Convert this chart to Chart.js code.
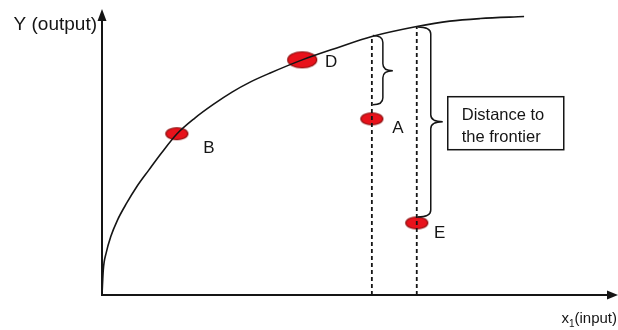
<!DOCTYPE html>
<html lang="en">

<head>
    <meta charset="UTF-8">
    <title>Production frontier</title>
    <script src="https://cdn.jsdelivr.net/npm/chart.js"></script>
    <style>
        body {
            margin: 0;
            padding: 0;
            background: #fff;
        }

        .chart-box {
            width: 618px;
            height: 330px;
        }
    </style>
</head>

<body>
    <div class="chart-box">
        <canvas id="frontierChart"></canvas>
    </div>

    <script>
        // frontier curve: input x1 -> output Y (0..100 units)
        const frontierX = [0, 0.25, 0.8, 1.7, 3, 4.8, 6.7, 9.1, 11.6, 14.5, 18, 21.5, 25.2, 28.7, 32.6, 38.8, 45.5, 52.3, 61, 67.4, 73.3, 81.8];
        const frontierY = [0, 8.8, 14.7, 20.5, 26.3, 32.3, 37.9, 43.9, 50, 56.5, 62.1, 66.8, 71.2, 74.7, 77.9, 82.5, 86.7, 90.7, 94.2, 96.1, 97, 97.7];

        // observed units
        const firmNames = ['B', 'D', 'A', 'E'];
        const firmX = [14.5, 38.8, 52.3, 61];
        const firmY = [56.6, 82.5, 61.8, 25.3];

        // dashed drops from the frontier down to the x axis (under A and E)
        const dropX = [52.3, 61];
        const dropTop = [90.7, 94.2];

        const INK = '#151515';
        const FONT = '"Liberation Sans", Arial, sans-serif';

        // red ellipse markers
        function ellipse(w, h) {
            const c = document.createElement('canvas');
            c.width = w + 3;
            c.height = h + 3;
            const g = c.getContext('2d');
            g.beginPath();
            g.ellipse(c.width / 2, c.height / 2, w / 2, h / 2, 0, 0, Math.PI * 2);
            g.fillStyle = '#e8121b';
            g.fill();
            g.lineWidth = 1.2;
            g.strokeStyle = '#8c0b0b';
            g.stroke();
            return c;
        }
        const dotSmall = ellipse(22, 12);
        const dotBig = ellipse(29, 16);

        // curly brace opening to the left, tip to the right
        function brace(ctx, x, yTop, yBot, yMid, d, w) {
            const r = 7;
            ctx.beginPath();
            ctx.moveTo(x, yTop);
            ctx.quadraticCurveTo(x + d, yTop, x + d, yTop + r);
            ctx.lineTo(x + d, yMid - r);
            ctx.quadraticCurveTo(x + d, yMid, x + w, yMid);
            ctx.quadraticCurveTo(x + d, yMid, x + d, yMid + r);
            ctx.lineTo(x + d, yBot - r);
            ctx.quadraticCurveTo(x + d, yBot, x, yBot);
            ctx.stroke();
        }

        const sketch = {
            id: 'sketch',
            beforeDatasetsDraw(chart) {
                const ctx = chart.ctx;
                const xs = chart.scales.x, ys = chart.scales.y;
                const ox = xs.getPixelForValue(0), oy = ys.getPixelForValue(0);
                ctx.save();
                ctx.strokeStyle = INK;
                ctx.fillStyle = INK;
                ctx.lineWidth = 2;
                // y axis + arrow
                ctx.beginPath();
                ctx.moveTo(ox, oy + 1);
                ctx.lineTo(ox, ys.top + 10);
                ctx.stroke();
                ctx.beginPath();
                ctx.moveTo(ox, ys.top - 1);
                ctx.lineTo(ox - 4.5, ys.top + 11);
                ctx.lineTo(ox + 4.5, ys.top + 11);
                ctx.closePath();
                ctx.fill();
                // x axis + arrow
                ctx.beginPath();
                ctx.moveTo(ox - 1, oy);
                ctx.lineTo(xs.right - 10, oy);
                ctx.stroke();
                ctx.beginPath();
                ctx.moveTo(xs.right, oy);
                ctx.lineTo(xs.right - 11, oy - 4.5);
                ctx.lineTo(xs.right - 11, oy + 4.5);
                ctx.closePath();
                ctx.fill();

                // axis titles
                ctx.font = '19px ' + FONT;
                ctx.textAlign = 'right';
                ctx.textBaseline = 'alphabetic';
                ctx.fillText('Y (output)', ox - 5, ys.top + 19.5);

                ctx.font = '15px ' + FONT;
                const tail = '(input)';
                const right = xs.right - 1;
                ctx.fillText(tail, right, oy + 28);
                const tw = ctx.measureText(tail).width;
                ctx.font = '10px ' + FONT;
                ctx.fillText('1', right - tw, oy + 32);
                const sw = ctx.measureText('1').width;
                ctx.font = '15px ' + FONT;
                ctx.fillText('x', right - tw - sw, oy + 28);
                ctx.restore();
            },
            afterDatasetsDraw(chart) {
                const ctx = chart.ctx;
                const xs = chart.scales.x, ys = chart.scales.y;
                ctx.save();
                ctx.strokeStyle = INK;
                ctx.fillStyle = INK;

                // point labels
                const offsets = [[32, 15], [29, 2], [26, 9], [23, 10]];
                ctx.font = '17px ' + FONT;
                ctx.textAlign = 'center';
                ctx.textBaseline = 'middle';
                firmNames.forEach((n, i) => {
                    ctx.fillText(n, xs.getPixelForValue(firmX[i]) + offsets[i][0], ys.getPixelForValue(firmY[i]) + offsets[i][1]);
                });

                // braces: frontier -> A, frontier -> E
                ctx.lineWidth = 1.5;
                const ax = xs.getPixelForValue(firmX[2]), ay = ys.getPixelForValue(firmY[2]);
                const aTop = ys.getPixelForValue(dropTop[0]);
                brace(ctx, ax + 1, aTop - 1, ay - 14, (aTop + ay - 14) / 2, 10, 20);

                const ex = xs.getPixelForValue(firmX[3]), ey = ys.getPixelForValue(firmY[3]);
                const eTop = ys.getPixelForValue(dropTop[1]);
                const tipY = (eTop + ey - 6) / 2;
                brace(ctx, ex + 1, eTop + 0.5, ey - 6, tipY, 13, 25);

                // text box
                const bx = ex + 31, by = tipY - 25;
                ctx.lineWidth = 1.5;
                ctx.strokeRect(bx, by, 116, 53);
                ctx.font = '16.5px ' + FONT;
                ctx.textAlign = 'left';
                ctx.textBaseline = 'alphabetic';
                ctx.fillText('Distance to', bx + 14, by + 23);
                ctx.fillText('the frontier', bx + 14, by + 45);
                ctx.restore();
            }
        };

        const frontierData = frontierX.map((x, i) => ({ x: x, y: frontierY[i] }));
        const firmData = firmX.map((x, i) => ({ x: x, y: firmY[i] }));

        const dropSets = dropX.map((x, i) => ({
            data: [{ x: x, y: 0 }, { x: x, y: dropTop[i] }],
            showLine: true,
            borderColor: INK,
            borderWidth: 1.8,
            borderDash: [4, 3],
            pointRadius: 0,
            order: 0
        }));

        new Chart(document.getElementById('frontierChart'), {
            type: 'scatter',
            data: {
                datasets: [
                    {
                        data: frontierData,
                        showLine: true,
                        borderColor: INK,
                        borderWidth: 1.6,
                        pointRadius: 0,
                        cubicInterpolationMode: 'monotone',
                        order: 0
                    },
                    ...dropSets,
                    {
                        data: firmData,
                        pointStyle: [dotSmall, dotBig, dotSmall, dotSmall],
                        pointRadius: 10,
                        order: 1
                    }
                ]
            },
            options: {
                responsive: true,
                maintainAspectRatio: false,
                animation: false,
                events: [],
                layout: { autoPadding: false, padding: { left: 102, right: 0, top: 10, bottom: 35 } },
                scales: {
                    x: { type: 'linear', min: 0, max: 100, display: false },
                    y: { type: 'linear', min: 0, max: 100, display: false }
                },
                plugins: {
                    legend: { display: false },
                    tooltip: { enabled: false }
                }
            },
            plugins: [sketch]
        });
    </script>
</body>

</html>
